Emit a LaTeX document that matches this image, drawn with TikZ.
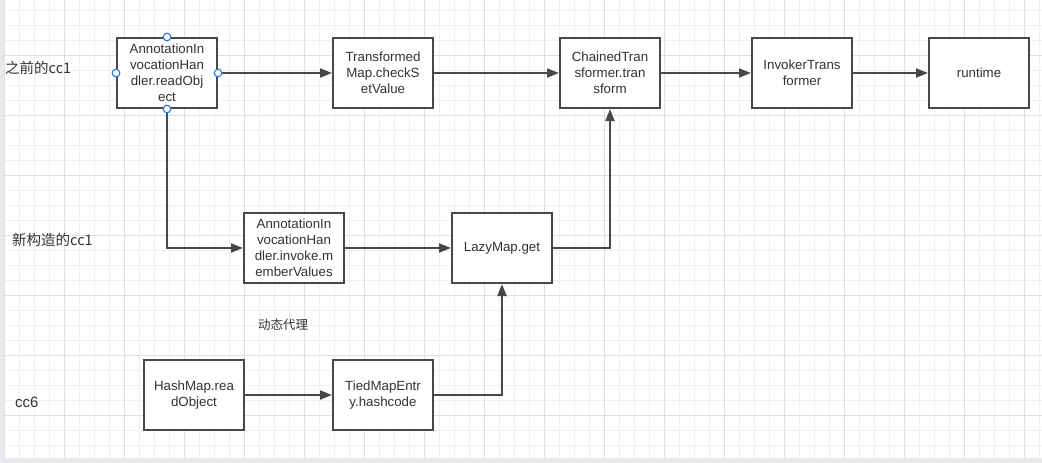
\documentclass[tikz,border=0pt]{standalone}
\usepackage{fontspec}
\setmainfont{Liberation Sans}
\newfontfamily\cjk{Noto Sans CJK SC}
\usepackage{tikz}
\usetikzlibrary{arrows.meta}
\definecolor{edgegray}{HTML}{45484D}
\definecolor{txtgray}{HTML}{333333}
\definecolor{handleblue}{HTML}{2F6FED}
\definecolor{minorgrid}{HTML}{F0F0F0}
\definecolor{majorgrid}{HTML}{E0E0E0}
\definecolor{framegray}{HTML}{E6E9ED}

\begin{document}
\begin{tikzpicture}[x=1pt,y=-1pt,
		box/.style={draw=edgegray,line width=2pt,fill=white,minimum width=100pt,minimum height=70pt,inner sep=0pt,align=center,text=txtgray,font=\fontsize{13.3}{16}\selectfont},
		link/.style={draw=edgegray,line width=2pt,-{Triangle[length=12pt,width=9pt]}},
		rowlabel/.style={anchor=west,inner sep=0pt,text=txtgray,font=\cjk\fontsize{14.5}{16}\selectfont},
		handle/.style={draw=handleblue,fill=white,line width=1.1pt}]
		\useasboundingbox (0,0) rectangle (1042,463);
		\fill[framegray] (0,0) rectangle (1042,463);
		\fill[white] (4,0) rectangle (1042,458);
		\foreach \k in {0,...,69} \draw[minorgrid,line width=0.8pt] ({4.3+15*\k},0) -- ({4.3+15*\k},458);
		\foreach \k in {0,...,29} \draw[minorgrid,line width=0.8pt] (4,{10+15*\k}) -- (1042,{10+15*\k});
		\foreach \k in {0,...,17} \draw[majorgrid,line width=0.8pt] ({4.3+60*\k},0) -- ({4.3+60*\k},458);
		\foreach \k in {0,...,6} \draw[majorgrid,line width=0.8pt] (4,{55+60*\k}) -- (1042,{55+60*\k});
		
		\node[box](readobj)at(167,73) {AnnotationIn\\vocationHan\\dler.readObj\\ect};
		\node[box](checkset)at(383,73) {Transformed\\Map.checkS\\etValue};
		\node[box](chained)at(610,73) {ChainedTran\\sformer.tran\\sform};
		\node[box](invoker)at(802,73) {InvokerTrans\\former};
		\node[box](runtime)at(979,73) {runtime};
		\node[box](invoke)at(294,248) {AnnotationIn\\vocationHan\\dler.invoke.m\\emberValues};
		\node[box](lazyget)at(502,248) {LazyMap.get};
		\node[box](hashread)at(194,395) {HashMap.rea\\dObject};
		\node[box](tiedentry)at(383,395) {TiedMapEntr\\y.hashcode};
		
		\node[rowlabel](before)at(5,68) {之前的cc1};
		\node[rowlabel](newcc)at(12,240) {新构造的cc1};
		\node[rowlabel,font=\fontsize{15}{16}\selectfont](cc6)at(15,402) {cc6};
		\node[text=txtgray,inner sep=0pt,font=\cjk\fontsize{12.5}{15}\selectfont](proxy)at(283,325) {动态代理};
		
		\draw[link](readobj) -- (checkset);
		\draw[link](checkset) -- (chained);
		\draw[link](chained) -- (invoker);
		\draw[link](invoker) -- (runtime);
		\draw[link](readobj.south) |- (invoke.west);
		\draw[link](invoke) -- (lazyget);
		\draw[link](lazyget.east) -| (chained.south);
		\draw[link](hashread) -- (tiedentry);
		\draw[link](tiedentry.east) -| (lazyget.south);
		
		\foreach \a in {north,south,east,west}
			\draw[handle](readobj.\a) circle[radius=3.8pt];
	\end{tikzpicture}
\end{document}
